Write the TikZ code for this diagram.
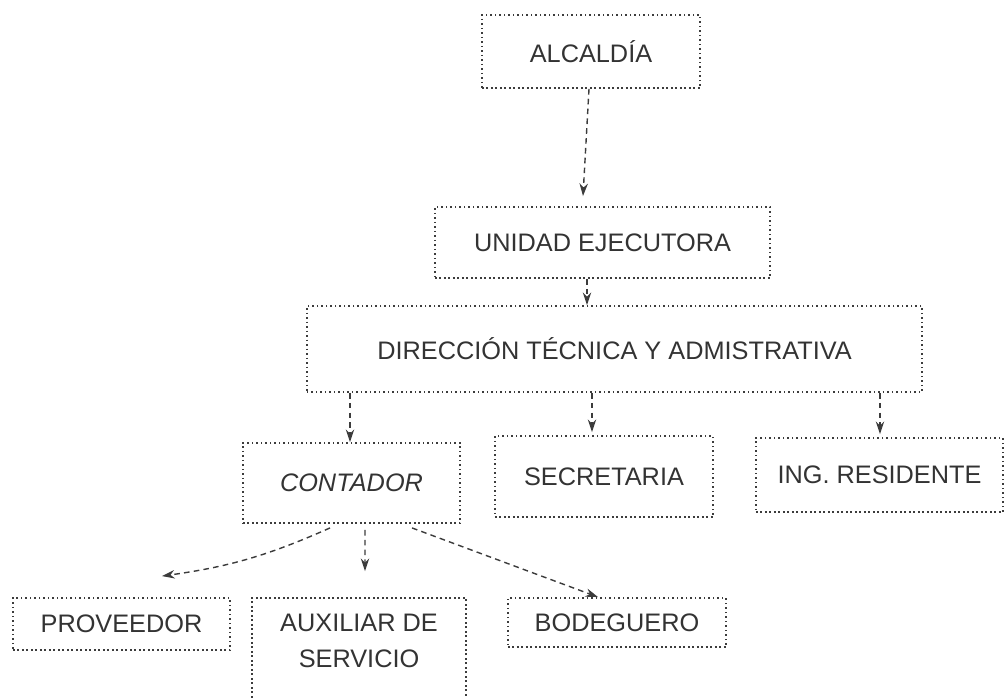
\documentclass[tikz,border=0pt]{standalone}
\usepackage{fontspec}
\setmainfont{Liberation Sans}
\usetikzlibrary{arrows.meta,calc,fit}
\definecolor{org_ink}{RGB}{51,51,51}
\definecolor{org_line}{RGB}{60,60,60}

\begin{document}
\begin{tikzpicture}[x=0.025cm,y=-0.025cm]
    % Define box and link styles
    \tikzset{orgbox/.style={draw=org_line,line width=1.3pt,dash pattern=on 1.1pt off 2.1pt,
                            inner sep=0pt,text=org_ink,font=\fontsize{18}{26}\selectfont},
             orgtext/.style={text=org_ink,font=\fontsize{18}{26}\selectfont,align=center},
             link/.style={draw=org_line,line width=1pt,dash pattern=on 4pt off 3pt,
                          -{Stealth[length=9pt,width=6pt]}}}

    \useasboundingbox (0,0) rectangle (1005,697);
    \clip (0,0) rectangle (1005,697);

    % Boxes, placed at their centres (pixel units)
    \node[orgbox,minimum width=5.45cm,minimum height=1.825cm] (alcaldia) at (591,51.5) {ALCALDÍA};
    \node[orgbox,minimum width=8.375cm,minimum height=1.775cm] (unidad) at (602.5,242.5) {UNIDAD EJECUTORA};
    \node[orgbox,minimum width=15.375cm,minimum height=2.15cm] (direccion) at (614.5,349) {DIRECCIÓN TÉCNICA Y ADMISTRATIVA};

    \node[orgbox,minimum width=5.425cm,minimum height=2cm] (contador) at (351.5,483) {\itshape CONTADOR};
    \node[orgbox,minimum width=5.45cm,minimum height=2.025cm] (secretaria) at (604,476.5) {SECRETARIA};
    \node[orgbox,minimum width=6.175cm,minimum height=1.85cm] (ing) at (879.5,475) {ING. RESIDENTE};

    \node[orgbox,minimum width=5.425cm,minimum height=1.3cm] (proveedor) at (121.5,624) {PROVEEDOR};
    \node[orgtext] (auxtext) at (359,641) {AUXILIAR DE\\SERVICIO};
    \node[orgbox,inner sep=0pt,fit={(252,598) (466,720)}] (auxiliar) {};
    \node[orgbox,minimum width=5.45cm,minimum height=1.225cm] (bodeguero) at (617,622.5) {BODEGUERO};

    % Links
    \draw[link] ($(alcaldia.south)+(-2,0)$) -- ($(unidad.north)+(-19.5,-10)$);
    \draw[link] ($(unidad.south)+(-15.5,0)$) -- ($(direccion.north)+(-27.5,0)$);
    \draw[link] ($(direccion.south)+(-264.5,0)$) -- ($(contador.north)+(-1.5,0)$);
    \draw[link] ($(direccion.south)+(-22.5,0)$) -- ($(secretaria.north)+(-12,-3)$);
    \draw[link] ($(direccion.south)+(265.5,0)$) -- ($(ing.north)+(0.5,-3)$);

    \draw[link] ($(contador.south)+(-21.5,4)$) to[bend left=8] ($(proveedor.north)+(40.5,-21)$);
    \draw[link] ($(contador.south)+(13.5,6)$) -- ($(auxiliar.north)+(6,-26)$);
    \draw[link] ($(contador.south)+(60.5,4)$) -- ($(bodeguero.north)+(-19,0)$);
\end{tikzpicture}
\end{document}
